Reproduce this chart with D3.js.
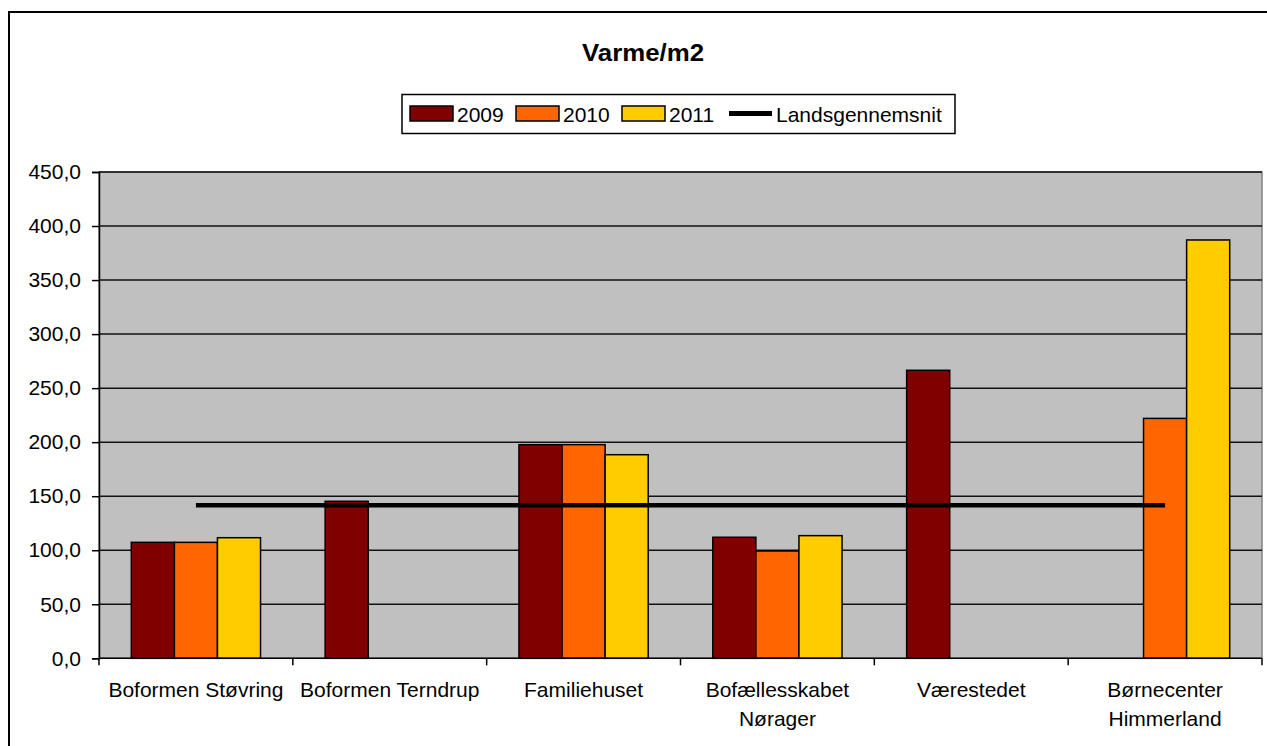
<!DOCTYPE html>
<html>
<head>
<meta charset="utf-8">
<script src="https://cdn.jsdelivr.net/npm/d3@7"></script>
<style>
  body { margin: 0; background: #fff; }
  svg { display: block; font-family: "Liberation Sans", Arial, sans-serif; }
</style>
</head>
<body>
<svg id="chart"></svg>
<script>
const categories = ["Boformen Støvring", "Boformen Terndrup", "Familiehuset", "Bofællesskabet Nørager", "Værestedet", "Børnecenter Himmerland"];
const catLines = [["Boformen Støvring"], ["Boformen Terndrup"], ["Familiehuset"], ["Bofællesskabet", "Nørager"], ["Værestedet"], ["Børnecenter", "Himmerland"]];
const years = ["2009", "2010", "2011"];
const v2009 = [107.3, 145.3, 197.7, 112.0, 266.5, null];
const v2010 = [107.3, null, 197.7, 99.3, null, 222.0];
const v2011 = [111.6, null, 188.4, 113.5, null, 387.1];
const landsgennemsnit = 141.6;
const yTicks = [0, 50, 100, 150, 200, 250, 300, 350, 400, 450];

const width = 1267, height = 746;
const colors = { "2009": "#800000", "2010": "#FF6600", "2011": "#FFCC00" };
const series = { "2009": v2009, "2010": v2010, "2011": v2011 };
const fontSize = 21;

const svg = d3.select("#chart").attr("width", width).attr("height", height);

// outer chart border
svg.append("rect")
  .attr("x", 9).attr("y", 12).attr("width", 1270).attr("height", 750)
  .attr("fill", "#fff").attr("stroke", "#000").attr("stroke-width", 2);

const plot = { left: 99, right: 1262, top: 172, bottom: 658.3 };

const x = d3.scaleBand().domain(categories).range([plot.left, plot.right]);
const y = d3.scaleLinear().domain([0, 450]).range([plot.bottom, plot.top]);
const xInner = d3.scaleBand().domain(years)
  .range([0, x.bandwidth()]).paddingOuter(0.75).paddingInner(0);

// plot background
svg.append("rect")
  .attr("x", plot.left).attr("y", plot.top)
  .attr("width", plot.right - plot.left).attr("height", plot.bottom - plot.top)
  .attr("fill", "#C0C0C0").attr("stroke", "#808080").attr("stroke-width", 1.5);

// gridlines
svg.append("g").selectAll("line")
  .data(yTicks.filter(t => t > 0))
  .enter().append("line")
    .attr("x1", plot.left).attr("x2", plot.right)
    .attr("y1", d => y(d)).attr("y2", d => y(d))
    .attr("stroke", "#111").attr("stroke-width", 1.5);

// bars
const groups = svg.append("g").selectAll("g")
  .data(categories)
  .enter().append("g")
    .attr("transform", d => `translate(${x(d)},0)`);

groups.selectAll("rect")
  .data((d, i) => years.map(yr => ({ yr, v: series[yr][i] })).filter(e => e.v != null))
  .enter().append("rect")
    .attr("x", d => xInner(d.yr))
    .attr("width", xInner.bandwidth())
    .attr("y", d => y(d.v))
    .attr("height", d => y(0) - y(d.v))
    .attr("fill", d => colors[d.yr])
    .attr("stroke", "#000").attr("stroke-width", 1.5);

// national average line, from first to last category centre
svg.append("line")
  .attr("x1", x(categories[0]) + x.bandwidth() / 2)
  .attr("x2", x(categories[categories.length - 1]) + x.bandwidth() / 2)
  .attr("y1", y(landsgennemsnit)).attr("y2", y(landsgennemsnit))
  .attr("stroke", "#000").attr("stroke-width", 4.5);

// y axis
const fmt = v => d3.format(".1f")(v).replace(".", ",");
const yAxis = svg.append("g")
  .attr("transform", `translate(${plot.left},0)`)
  .call(d3.axisLeft(y).tickValues(yTicks).tickFormat(fmt).tickSize(7).tickPadding(11));
yAxis.select(".domain").attr("stroke", "#000").attr("stroke-width", 1.5);
yAxis.selectAll(".tick line").attr("stroke", "#000").attr("stroke-width", 1.5);
yAxis.selectAll("text").attr("font-size", fontSize).attr("fill", "#000")
  .attr("font-family", "Liberation Sans, Arial, sans-serif");

// x axis
const bounds = categories.map(c => x(c)).concat([plot.right]);
const xAxis = svg.append("g");
xAxis.append("line")
  .attr("x1", plot.left).attr("x2", plot.right)
  .attr("y1", plot.bottom).attr("y2", plot.bottom)
  .attr("stroke", "#000").attr("stroke-width", 1.5);
xAxis.selectAll(".tk").data(bounds).enter().append("line")
  .attr("class", "tk")
  .attr("x1", d => d).attr("x2", d => d)
  .attr("y1", plot.bottom).attr("y2", plot.bottom + 7)
  .attr("stroke", "#000").attr("stroke-width", 1.5);

const labels = xAxis.selectAll("text").data(categories).enter().append("text")
  .attr("x", d => x(d) + x.bandwidth() / 2)
  .attr("y", 697)
  .attr("text-anchor", "middle")
  .attr("font-size", fontSize).attr("fill", "#000");
labels.each(function(d, i) {
  const t = d3.select(this);
  catLines[i].forEach((ln, j) => {
    t.append("tspan").attr("x", x(d) + x.bandwidth() / 2).attr("dy", j === 0 ? 0 : 29).text(ln);
  });
});

// title
svg.append("text")
  .attr("x", 643).attr("y", 61)
  .attr("text-anchor", "middle")
  .attr("font-size", 23).attr("font-weight", "bold")
  .attr("textLength", 122).attr("lengthAdjust", "spacingAndGlyphs")
  .text("Varme/m2");

// legend
const legend = svg.append("g");
legend.append("rect")
  .attr("x", 402).attr("y", 94.5).attr("width", 553).attr("height", 39)
  .attr("fill", "#fff").attr("stroke", "#000").attr("stroke-width", 1.5);

const legendItems = [
  { key: "2009", type: "bar", x: 410 },
  { key: "2010", type: "bar", x: 516 },
  { key: "2011", type: "bar", x: 622 },
  { key: "Landsgennemsnit", type: "line", x: 729 }
];
legendItems.forEach(it => {
  if (it.type === "bar") {
    legend.append("rect")
      .attr("x", it.x).attr("y", 106).attr("width", 43).attr("height", 15)
      .attr("fill", colors[it.key]).attr("stroke", "#000").attr("stroke-width", 1.5);
  } else {
    legend.append("line")
      .attr("x1", it.x).attr("x2", it.x + 43).attr("y1", 113.5).attr("y2", 113.5)
      .attr("stroke", "#000").attr("stroke-width", 5);
  }
  legend.append("text")
    .attr("x", it.x + 47).attr("y", 122)
    .attr("font-size", fontSize).attr("fill", "#000")
    .text(it.key);
});
</script>
</body>
</html>
